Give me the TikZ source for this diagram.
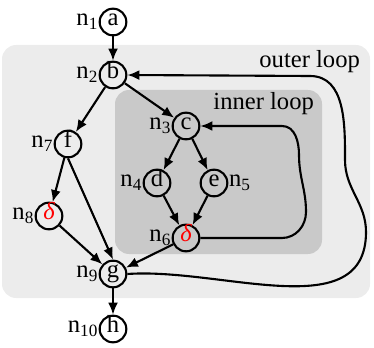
\documentclass[tikz,border=0pt]{standalone}
\usepackage{fontspec}
\setmainfont{Liberation Serif}
\usetikzlibrary{arrows.meta}

\begin{document}
\begin{tikzpicture}[x=0.03cm,y=-0.03cm,
  every node/.style={font=\fontsize{21}{24}\selectfont},
  vertex/.style={circle,draw,line width=1.8pt,minimum size=0.8cm,inner sep=0pt,
    text height=1.45ex,text depth=0.25ex},
  arr/.style={line width=1.8pt,-{Latex[length=0.36cm,width=0.3cm]}},
  ll/.style={label={[label distance=-3pt]left:n\textsubscript{#1}}},
  rl/.style={label={[label distance=-3pt]right:n\textsubscript{#1}}}]
\useasboundingbox (0,0) rectangle (374,348);

% loop regions
\fill[gray!15, rounded corners=12] (2,45) rectangle (370,298);
\fill[gray!42, rounded corners=12] (115,90) rectangle (322,254);
\node[anchor=east] (outer) at (364,62) {outer loop};
\node[anchor=east] (inner) at (318,104) {inner loop};

% nodes
\node[vertex, ll=1] (a) at (113,22) {a};
\node[vertex, ll=2] (b) at (113,75) {b};
\node[vertex, ll=3] (c) at (186,126) {c};
\node[vertex, ll=4] (d) at (157,183) {d};
\node[vertex, rl=5] (e) at (214,183) {e};
\node[vertex, ll=6] (d6) at (186,238) {\color{red}\itshape δ};
\node[vertex, ll=7] (f) at (68,144) {f};
\node[vertex, ll=8] (d8) at (49,216) {\color{red}\itshape δ};
\node[vertex, ll=9] (g) at (113,274) {g};
\node[vertex, ll=10] (h) at (113,329) {h};

% edges
\draw[arr] (a) -- (b);
\draw[arr] (b) -- (f);
\draw[arr] (b) -- (c);
\draw[arr] (c) -- (d);
\draw[arr] (c) -- (e);
\draw[arr] (d) -- (d6);
\draw[arr] (e) -- (d6);
\draw[arr] (f) -- (d8);
\draw[arr] (f.south) -- (g.north);
\draw[arr] (d8) -- (g);
\draw[arr] (d6) -- (g);
\draw[arr] (g) -- (h);

% back edges
\draw[arr] (d6.east) -- (282,238) to[out=0,in=-90] (306,212)
  to[out=90,in=-90] (299,155) to[out=90,in=0] (282,126) -- (c.east);
\draw[arr] (g.east) to[out=4,in=-90] (366,232)
  to[out=90,in=-90] (345,160) to[out=90,in=0] (310,76) -- (b.east);
\end{tikzpicture}
\end{document}
